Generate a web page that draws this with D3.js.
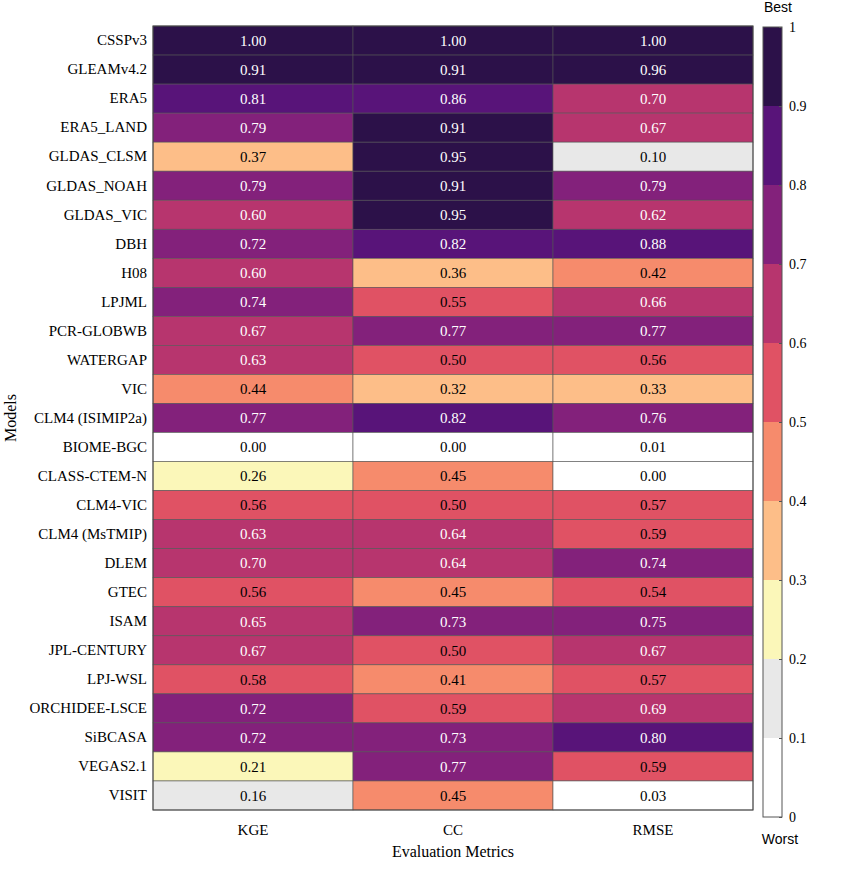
<!DOCTYPE html><html><head><meta charset="utf-8">
<script src="https://cdn.jsdelivr.net/npm/d3@7"></script>
<style>body{margin:0;background:#fff}.serif{font-family:"Liberation Serif","Times New Roman",serif}</style></head><body>
<script>
const models=["CSSPv3","GLEAMv4.2","ERA5","ERA5_LAND","GLDAS_CLSM","GLDAS_NOAH","GLDAS_VIC","DBH","H08","LPJML","PCR-GLOBWB","WATERGAP","VIC","CLM4 (ISIMIP2a)","BIOME-BGC","CLASS-CTEM-N","CLM4-VIC","CLM4 (MsTMIP)","DLEM","GTEC","ISAM","JPL-CENTURY","LPJ-WSL","ORCHIDEE-LSCE","SiBCASA","VEGAS2.1","VISIT"];
const metrics=["KGE","CC","RMSE"];
const kge=[1.00,0.91,0.81,0.79,0.37,0.79,0.60,0.72,0.60,0.74,0.67,0.63,0.44,0.77,0.00,0.26,0.56,0.63,0.698,0.56,0.65,0.67,0.58,0.72,0.72,0.21,0.16];
const cc=[1.00,0.91,0.86,0.91,0.95,0.91,0.95,0.82,0.36,0.55,0.77,0.50,0.32,0.82,0.00,0.45,0.50,0.64,0.64,0.45,0.73,0.50,0.41,0.59,0.73,0.77,0.45];
const rmse=[1.00,0.96,0.698,0.67,0.10,0.79,0.62,0.88,0.42,0.66,0.77,0.56,0.33,0.76,0.01,0.00,0.57,0.59,0.74,0.54,0.75,0.67,0.57,0.69,0.80,0.59,0.03];
const binColors=["#ffffff","#e8e8e8","#fbf7b9","#fdbe88","#f68b6c","#e05264","#b7356e","#83217b","#581479","#2c1149"];
const cbTicks=[0,0.1,0.2,0.3,0.4,0.5,0.6,0.7,0.8,0.9,1];
const series=[kge,cc,rmse];
const W=865,H=877;
const SERIF='"Liberation Serif","Times New Roman",serif';
const svg=d3.select("body").append("svg").attr("width",W).attr("height",H);
const x=d3.scaleBand().domain(metrics).range([153,753]);
const y=d3.scaleBand().domain(models).range([26,810]);
const col=d3.scaleThreshold().domain(cbTicks.slice(1,-1)).range(binColors);
const cells=[];
models.forEach((m,i)=>metrics.forEach((k,j)=>cells.push({m,k,v:series[j][i]})));
const g=svg.append("g");
g.selectAll("rect").data(cells).join("rect").attr("x",d=>x(d.k)).attr("y",d=>y(d.m))
 .attr("width",x.bandwidth()).attr("height",y.bandwidth()).attr("fill",d=>col(d.v))
 .attr("stroke","#555").attr("stroke-width",0.6);
g.selectAll("text").data(cells).join("text").attr("x",d=>x(d.k)+x.bandwidth()/2).attr("y",d=>y(d.m)+y.bandwidth()/2)
 .attr("dy","0.35em").attr("text-anchor","middle").style("font-family",SERIF).style("font-size","15px")
 .attr("fill",d=>d.v>=0.6?"#fff":"#000").text(d=>d.v.toFixed(2));
svg.append("rect").attr("x",153).attr("y",26).attr("width",600).attr("height",784).attr("fill","none").attr("stroke","#444");
const yl=svg.append("g").attr("transform","translate(153,0)").call(d3.axisLeft(y).tickSize(0).tickPadding(6));
yl.select(".domain").remove();
yl.selectAll("text").style("font-family",SERIF).style("font-size","15px").attr("fill","#000");
const xl=svg.append("g").attr("transform","translate(0,810)").call(d3.axisBottom(x).tickSize(0).tickPadding(14));
xl.select(".domain").remove();
xl.selectAll("text").style("font-family",SERIF).style("font-size","15px").attr("fill","#000");
svg.append("text").attr("x",453).attr("y",857).attr("text-anchor","middle").style("font-family",SERIF).style("font-size","16px").text("Evaluation Metrics");
svg.append("text").attr("transform","translate(16,418) rotate(-90)").attr("text-anchor","middle").style("font-family",SERIF).style("font-size","16px").text("Models");
const cy=d3.scaleLinear().domain([0,1]).range([817,27]);
const cb=svg.append("g");
cb.selectAll("rect").data(binColors).join("rect").attr("x",763).attr("width",19)
 .attr("y",(c,i)=>cy(cbTicks[i+1])).attr("height",(c,i)=>cy(cbTicks[i])-cy(cbTicks[i+1])).attr("fill",c=>c);
cb.append("rect").attr("x",763).attr("y",27).attr("width",19).attr("height",790).attr("fill","none").attr("stroke","#555");
const ca=svg.append("g").attr("transform","translate(782,0)").call(d3.axisRight(cy).tickValues(cbTicks).tickSize(-3).tickPadding(7).tickFormat(d3.format("")));
ca.select(".domain").remove();
ca.selectAll("line").attr("stroke","#555");
ca.selectAll("text").style("font-family",SERIF).style("font-size","14px").attr("fill","#000");
svg.append("text").attr("x",778).attr("y",12).attr("text-anchor","middle").style("font-family","Liberation Sans, Arial, sans-serif").style("font-size","14px").text("Best");
svg.append("text").attr("x",780).attr("y",844).attr("text-anchor","middle").style("font-family","Liberation Sans, Arial, sans-serif").style("font-size","14px").text("Worst");
</script></body></html>
